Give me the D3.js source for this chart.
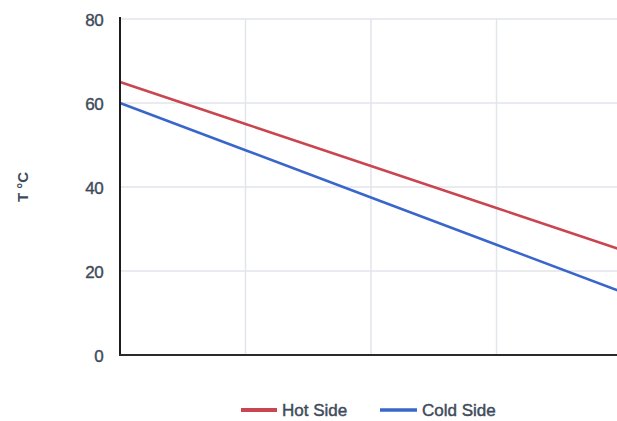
<!DOCTYPE html>
<html>
<head>
<meta charset="utf-8">
<script src="https://cdn.jsdelivr.net/npm/d3@7"></script>
<style>
  html, body { margin: 0; padding: 0; background: #ffffff; }
  svg { display: block; }
  text { font-family: "Liberation Sans", Arial, sans-serif; }
</style>
</head>
<body>
<svg id="chart" width="617" height="421"></svg>
<script>
// Sample positions along the horizontal axis
const positions = [0, 1, 2, 3, 4];
// Temperatures (°C)
const hotSide = [65, 55, 45, 35, 25];
const coldSide = [60, 48.75, 37.5, 26.25, 15];
const yTicks = [0, 20, 40, 60, 80];
const seriesNames = ["Hot Side", "Cold Side"];
const seriesColors = ["#c9454f", "#3a66cc"];

const svg = d3.select("#chart");
const margin = { left: 120, top: 19, bottom: 355 };
const plotRight = 622;
const textColor = "#3f4b5b";

const x = d3.scaleLinear().domain([0, 4]).range([margin.left, plotRight]);
const y = d3.scaleLinear().domain([0, 80]).range([margin.bottom, margin.top]);

// Gridlines
const grid = svg.append("g").attr("stroke", "#e3e5ec").attr("stroke-width", 1.5);
grid.selectAll("line.h").data(yTicks.filter(d => d > 0)).join("line")
  .attr("class", "h")
  .attr("x1", margin.left).attr("x2", plotRight)
  .attr("y1", d => y(d)).attr("y2", d => y(d));
grid.selectAll("line.v").data(positions.filter(d => d > 0)).join("line")
  .attr("class", "v")
  .attr("x1", d => x(d)).attr("x2", d => x(d))
  .attr("y1", margin.top).attr("y2", margin.bottom);

// Y axis tick labels
const yAxis = d3.axisLeft(y).tickValues(yTicks).tickSize(0).tickPadding(17);
const yg = svg.append("g").attr("transform", `translate(${margin.left},0)`).call(yAxis);
yg.select(".domain").remove();
yg.selectAll("text")
  .attr("fill", textColor)
  .attr("stroke", textColor)
  .attr("stroke-width", 0.4)
  .style("font-size", "17px")
  .style("letter-spacing", "-0.6px")
  .attr("dy", "0.36em");

// Axis title
svg.append("text")
  .attr("transform", `translate(28,187) rotate(-90)`)
  .attr("text-anchor", "middle")
  .attr("fill", textColor)
  .style("font-size", "15px")
  .style("font-weight", "bold")
  .text("T °C");

// Series lines
const line = d3.line().x((d, i) => x(positions[i])).y(d => y(d));
[hotSide, coldSide].forEach((vals, k) => {
  svg.append("path")
    .datum(vals)
    .attr("fill", "none")
    .attr("stroke", seriesColors[k])
    .attr("stroke-width", 2.5)
    .attr("d", line);
});

// Axis lines
svg.append("line")
  .attr("x1", margin.left).attr("x2", margin.left)
  .attr("y1", margin.top - 2).attr("y2", margin.bottom)
  .attr("stroke", "#1c1c1c").attr("stroke-width", 2);
svg.append("line")
  .attr("x1", margin.left - 1).attr("x2", plotRight)
  .attr("y1", margin.bottom).attr("y2", margin.bottom)
  .attr("stroke", "#2a2a2a").attr("stroke-width", 2);

// Legend
const legendItems = [
  { name: seriesNames[0], color: seriesColors[0], x0: 241, w: 36, sw: 4 },
  { name: seriesNames[1], color: seriesColors[1], x0: 380, w: 37, sw: 3.5 }
];
const lg = svg.append("g");
legendItems.forEach(it => {
  lg.append("line")
    .attr("x1", it.x0).attr("x2", it.x0 + it.w)
    .attr("y1", 410).attr("y2", 410)
    .attr("stroke", it.color).attr("stroke-width", it.sw);
  lg.append("text")
    .attr("x", it.x0 + it.w + 5).attr("y", 416)
    .attr("fill", textColor)
    .attr("stroke", textColor)
    .attr("stroke-width", 0.45)
    .style("font-size", "17px")
    .text(it.name);
});
</script>
</body>
</html>
